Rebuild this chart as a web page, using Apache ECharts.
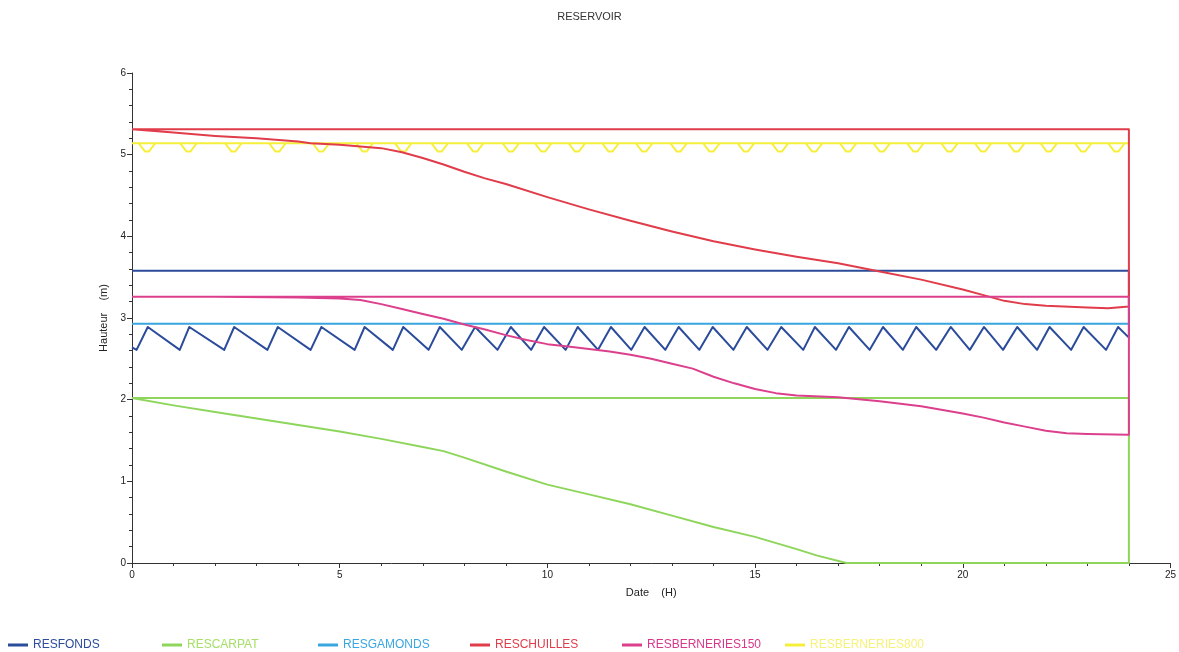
<!DOCTYPE html>
<html>
<head>
<meta charset="utf-8">
<script src="https://cdn.jsdelivr.net/npm/echarts@6/dist/echarts.min.js"></script>
<style>html,body{margin:0;padding:0;background:#fff;}#c{width:1179px;height:652px;}</style>
</head>
<body>
<div id="c"></div>
<script>
// ---- data ----
const seriesNames = ['RESFONDS','RESCARPAT','RESGAMONDS','RESCHUILLES','RESBERNERIES150','RESBERNERIES800'];
const xTicks = [0,5,10,15,20,25];
const yTicks = [0,1,2,3,4,5,6];

const fondsMax = 3.58;
const fondsLevel = [[0,2.64],[0.11,2.61],[0.38,2.89],[1.15,2.61],[1.38,2.89],[2.22,2.61],[2.46,2.89],[3.26,2.61],[3.51,2.89],[4.30,2.61],[4.56,2.89],[5.36,2.61],[5.60,2.89],[6.28,2.61],[6.53,2.89],[7.14,2.61],[7.41,2.89],[7.94,2.61],[8.26,2.89],[8.80,2.61],[9.12,2.89],[9.61,2.61],[9.92,2.89],[10.44,2.61],[10.73,2.89],[11.22,2.61],[11.53,2.89],[12.02,2.61],[12.34,2.89],[12.84,2.61],[13.16,2.89],[13.66,2.61],[13.98,2.89],[14.48,2.61],[14.80,2.89],[15.30,2.61],[15.63,2.89],[16.16,2.61],[16.44,2.89],[16.95,2.61],[17.26,2.89],[17.76,2.61],[18.08,2.89],[18.56,2.61],[18.88,2.89],[19.36,2.61],[19.71,2.89],[20.17,2.61],[20.51,2.89],[20.97,2.61],[21.31,2.89],[21.79,2.61],[22.09,2.89],[22.61,2.61],[22.91,2.89],[23.45,2.61],[23.74,2.89],[24,2.76]];

const carpatMax = 2.02;
const carpatLevel = [[0,2.02],[1,1.93],[2,1.85],[3,1.77],[4,1.69],[5,1.61],[6,1.52],[7,1.42],[7.5,1.37],[8,1.29],[9,1.12],[10,0.96],[11,0.84],[12,0.72],[13,0.58],[14,0.44],[15,0.32],[16,0.17],[16.5,0.09],[17.2,0],[24,0]];

const gamondsMax = 2.93;
const gamondsLevel = [[0,2.93],[24,2.93]];

const chuillesMax = 5.31;
const chuillesLevel = [[0,5.31],[1,5.27],[2,5.23],[3,5.20],[4,5.16],[4.3,5.14],[5,5.12],[6,5.08],[6.5,5.03],[7,4.96],[7.5,4.88],[8,4.79],[8.5,4.71],[9,4.64],[10,4.48],[11,4.33],[12,4.19],[13,4.06],[14,3.94],[15,3.84],[16,3.75],[17,3.67],[18,3.57],[19,3.47],[20,3.35],[20.5,3.28],[21,3.21],[21.5,3.17],[22,3.15],[23,3.13],[23.5,3.12],[24,3.14]];

const bern150Max = 3.26;
const bern150Level = [[0,3.26],[2,3.26],[4,3.25],[5,3.24],[5.5,3.22],[6,3.17],[6.5,3.11],[7,3.05],[7.5,2.99],[8,2.92],[8.5,2.86],[9,2.79],[9.5,2.73],[10,2.68],[10.5,2.65],[11,2.62],[11.5,2.59],[12,2.55],[12.5,2.50],[13,2.44],[13.5,2.38],[14,2.28],[14.5,2.20],[15,2.13],[15.5,2.08],[16,2.05],[17,2.03],[18,1.98],[19,1.92],[20,1.83],[20.5,1.78],[21,1.72],[21.5,1.67],[22,1.62],[22.5,1.59],[23,1.58],[24,1.57]];

const bern800Max = 5.14;
const bern800DipBottom = 5.04;
const bern800DipTimes = [0.36,1.36,2.44,3.5,4.55,5.6,6.53,7.41,8.26,9.12,9.9,10.71,11.52,12.33,13.16,13.95,14.78,15.6,16.42,17.24,18.05,18.86,19.68,20.49,21.29,22.07,22.9,23.7];

// ---- styling / build ----
const colors = {
  RESFONDS:'#2b4c9b', RESCARPAT:'#8ed65b', RESGAMONDS:'#3aa6e0',
  RESCHUILLES:'#e03c4a', RESBERNERIES150:'#dc3f8c', RESBERNERIES800:'#f5ef3c'
};
const legendText = {
  RESFONDS:'#2b4c9b', RESCARPAT:'#a6e06a', RESGAMONDS:'#3aa6e0',
  RESCHUILLES:'#e03c4a', RESBERNERIES150:'#d8378a', RESBERNERIES800:'#f7f27a'
};
const legendLeft = [8,162,318,470,622,785];

function loop(level, max){
  const d = level.slice();
  const last = level[level.length-1][0];
  d.push([last, max]); d.push([0, max]);
  return d;
}
function dipLevel(times, top, bottom){
  const d = [[0, top]];
  times.forEach(t => {
    d.push([t-0.2, top]); d.push([t-0.05, bottom]); d.push([t+0.05, bottom]); d.push([t+0.2, top]);
  });
  d.push([24, top]);
  return d;
}

function mk(name, data, z){
  return {name, type:'line', data, showSymbol:false, symbol:'none', z,
    lineStyle:{color:colors[name], width:2, join:'round'}, itemStyle:{color:colors[name]}, animation:false};
}

const series = [
  mk('RESBERNERIES800', loop(dipLevel(bern800DipTimes, bern800Max, bern800DipBottom), bern800Max), 1),
  mk('RESFONDS', loop(fondsLevel, fondsMax), 2),
  mk('RESCARPAT', loop(carpatLevel, carpatMax), 3),
  mk('RESGAMONDS', loop(gamondsLevel, gamondsMax), 4),
  mk('RESCHUILLES', loop(chuillesLevel, chuillesMax), 5),
  mk('RESBERNERIES150', loop(bern150Level, bern150Max), 6)
];

const legends = seriesNames.map((n,i) => ({
  data:[n], left: legendLeft[i], top: 639, padding:0, icon:'rect', itemWidth:20, itemHeight:3, itemGap:6,
  textStyle:{color:legendText[n], fontSize:12, fontFamily:'Liberation Sans, Arial'}
}));

const chart = echarts.init(document.getElementById('c'), null, {renderer:'canvas'});
chart.setOption({
  backgroundColor:'#ffffff',
  animation:false,
  title:{text:'RESERVOIR', left:'center', top:6, textStyle:{fontSize:11, fontWeight:'normal', color:'#333', fontFamily:'Liberation Sans, Arial'}},
  legend: legends,
  grid:{left:132, right:6, top:73, bottom:89, containLabel:false},
  xAxis:{type:'value', min:xTicks[0], max:xTicks[xTicks.length-1], interval:5,
    name:'Date    (H)', nameLocation:'middle', nameGap:24,
    nameTextStyle:{fontSize:11, color:'#222', fontFamily:'Liberation Sans, Arial'},
    axisLine:{show:true, lineStyle:{color:'#333', width:1}},
    axisTick:{show:true, length:5, lineStyle:{color:'#333'}},
    minorTick:{show:true, splitNumber:5, length:3, lineStyle:{color:'#333'}},
    splitLine:{show:false},
    axisLabel:{fontSize:10, color:'#222', margin:7, fontFamily:'Liberation Sans, Arial'}},
  yAxis:{type:'value', min:yTicks[0], max:yTicks[yTicks.length-1], interval:1,
    name:'Hauteur    (m)', nameLocation:'middle', nameGap:22, nameRotate:90,
    nameTextStyle:{fontSize:11, color:'#222', fontFamily:'Liberation Sans, Arial'},
    axisLine:{show:true, lineStyle:{color:'#333', width:1}},
    axisTick:{show:true, length:5, lineStyle:{color:'#333'}},
    minorTick:{show:true, splitNumber:5, length:3, lineStyle:{color:'#333'}},
    splitLine:{show:false},
    axisLabel:{fontSize:10, color:'#222', margin:6, fontFamily:'Liberation Sans, Arial'}},
  series
});
</script>
</body>
</html>
